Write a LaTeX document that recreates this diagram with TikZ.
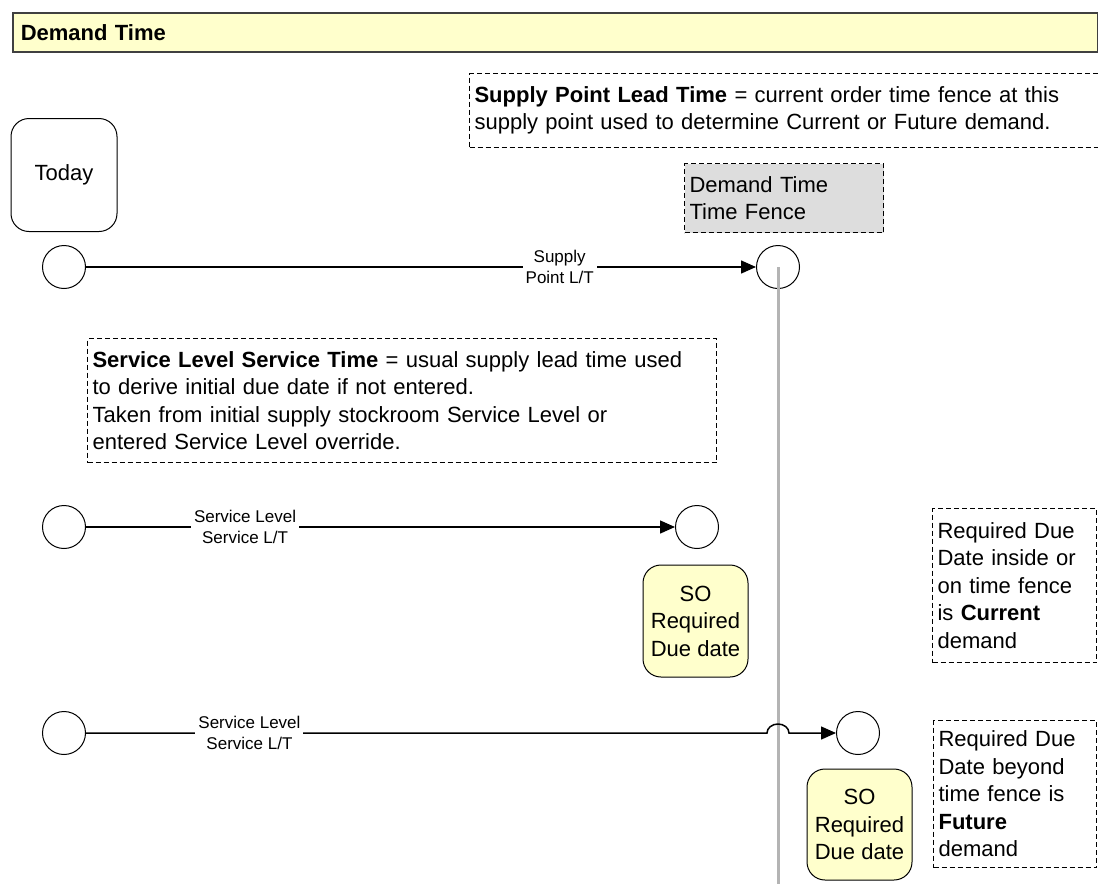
\documentclass[tikz,border=0pt]{standalone}
\usepackage{fontspec}
\setmainfont{Liberation Sans}
\usetikzlibrary{arrows.meta}
\definecolor{paleyellow}{HTML}{FFFFCC}
\definecolor{fencegray}{HTML}{DDDDDD}
\definecolor{guidegray}{HTML}{B4B4B4}
\definecolor{barline}{HTML}{404040}
\begin{document}
\begin{tikzpicture}[x=1pt,y=-1pt,
  maintext/.style={font=\fontsize{22}{27.5}\selectfont},
  titlebar/.style={draw=barline,line width=1.6pt,fill=paleyellow,anchor=north west,
    inner xsep=8pt,inner ysep=0pt,align=left,font=\fontsize{22}{26}\selectfont\bfseries},
  note/.style={draw,line width=1.1pt,dash pattern=on 5pt off 3pt,rectangle,anchor=north west,
    inner xsep=5pt,inner ysep=0pt,align=left,maintext},
  pt/.style={circle,draw,line width=1pt,minimum size=43pt,inner sep=0pt},
  roundbox/.style={draw,line width=1pt,rounded corners=18pt,minimum width=105pt,align=center,maintext},
  conn/.style={line width=1.5pt,-{Triangle[length=15pt,width=13pt]}},
  lbl/.style={fill=white,inner xsep=3pt,inner ysep=1pt,align=center,font=\fontsize{17}{21}\selectfont},
  guide/.style={draw=guidegray,line width=3pt}]
\useasboundingbox (0,0) rectangle (1098,884);

% header
\node[titlebar,text width=1069pt,minimum height=39pt] (title) at (12,12) {Demand Time};

% explanatory notes
\node[note,text width=631pt,minimum height=74pt] (splt) at (469,73)
  {\textbf{Supply Point Lead Time} = current order time fence at this\\
   supply point used to determine Current or Future demand.};
\node[note,fill=fencegray,text width=189pt,minimum height=69pt] (fence) at (684,163)
  {Demand Time\\Time Fence};
\node[note,text width=619pt,minimum height=124pt] (slst) at (87,338)
  {\textbf{Service Level Service Time} = usual supply lead time used\\
   to derive initial due date if not entered.\\
   Taken from initial supply stockroom Service Level or\\
   entered Service Level override.};
\node[note,text width=154pt,minimum height=154pt] (cur) at (932,508)
  {Required Due\\Date inside or\\on time fence\\is \textbf{Current}\\demand};
\node[note,text width=153pt,minimum height=147pt] (fut) at (933,720)
  {Required Due\\Date beyond\\time fence is\\\textbf{Future}\\demand};

% today marker
\node[roundbox,minimum width=106pt,minimum height=113pt] (today) at (64,175) {Today};

% time points
\node[pt] (t1) at (64,267) {};
\node[pt] (tf) at (778,267) {};
\node[pt] (a2) at (64,527) {};
\node[pt] (b2) at (697,527) {};
\node[pt] (a3) at (64,733) {};
\node[pt] (b3) at (858,733) {};

% due-date boxes
\node[roundbox,fill=paleyellow,minimum height=112pt] (so1) at (695.5,621) {SO\\Required\\Due date};
\node[roundbox,fill=paleyellow,minimum height=111pt] (so2) at (859.5,824.5) {SO\\Required\\Due date};

% time fence guide line
\coordinate (gbot) at (778,884);
\draw[guide] (tf.center) -- (gbot);

% lead-time connectors
\draw[conn] (t1) -- node[lbl,pos=0.707] {Supply\\Point L/T} (tf);
\draw[conn] (a2) -- node[lbl,pos=0.27] {Service Level\\Service L/T} (b2);
\coordinate (jmp) at (767,733);
\draw[conn] (a3) -- node[lbl,pos=0.24] {Service Level\\Service L/T} (jmp)
  arc[start angle=180,end angle=360,x radius=11,y radius=9] -- (b3);
\end{tikzpicture}
\end{document}
